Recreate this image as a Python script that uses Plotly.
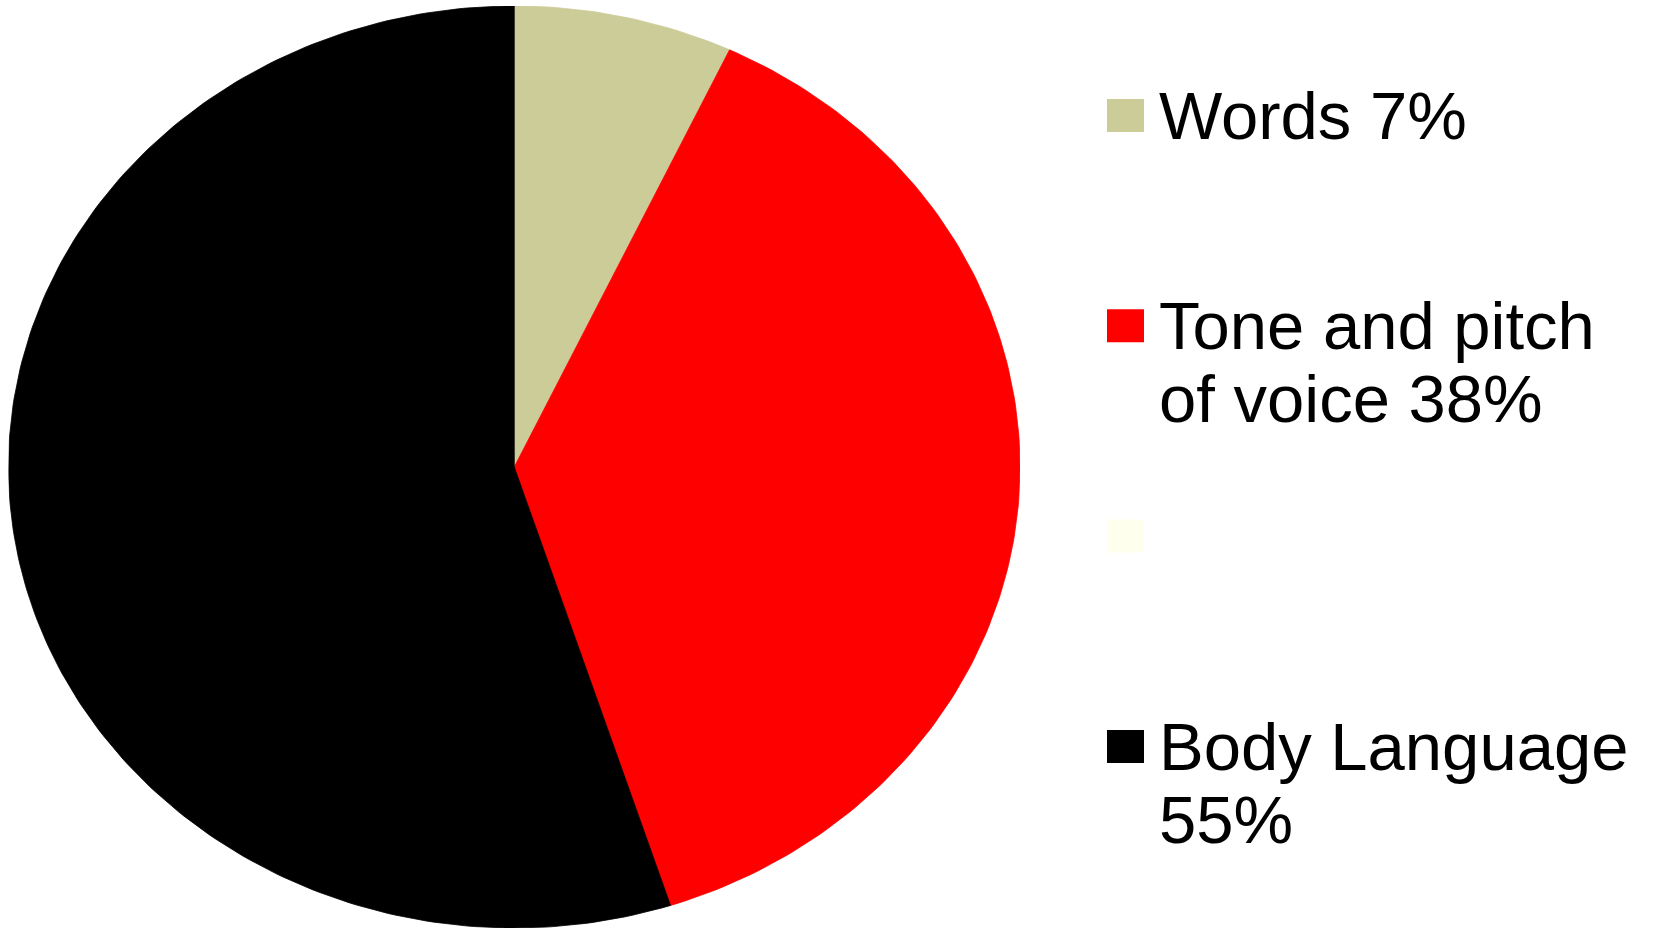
import textwrap
import numpy as np
import plotly.graph_objects as go

# ---- data ----
categories = ["Words", "Tone and pitch of voice", "", "Body Language"]
values = [7, 38, 0, 55]
colors = ["#CCCC99", "#FF0000", "#FFFFEE", "#000000"]

W, H = 1671, 929

fig = go.Figure()

# pie wedges drawn on an (elliptical) unit-circle in data space
total = float(sum(values))
cum = 0.0
for cat, val, col in zip(categories, values, colors):
    start = cum / total
    cum += val
    end = cum / total
    if val <= 0:
        continue
    n = max(4, int(400 * (end - start)))
    t = np.linspace(start, end, n) * 2 * np.pi  # clockwise from 12 o'clock
    xs = np.concatenate([[0], np.sin(t), [0]])
    ys = np.concatenate([[0], np.cos(t), [0]])
    fig.add_trace(go.Scatter(
        x=xs, y=ys, mode="lines", fill="toself", fillcolor=col,
        line=dict(color=col, width=0.8), hoverinfo="skip",
        name=f"{cat} {val}%", showlegend=False,
    ))

# pie placement (pixels)
px_left, px_right, px_top, px_bottom = 8.5, 1020, 6, 928
fig.update_xaxes(range=[-1, 1], visible=False, fixedrange=True,
                 domain=[px_left / W, px_right / W])
fig.update_yaxes(range=[-1, 1], visible=False, fixedrange=True,
                 domain=[1 - px_bottom / H, 1 - px_top / H])

# custom legend
sq_x0, sq_x1 = 1107, 1144
sq_h = 33
first_center = 115.5
item_step = 210.3
line_step = 73
text_x = 1157
font_size = 67
baseline_off = 23

shapes = []
annotations = []
for i, (cat, val, col) in enumerate(zip(categories, values, colors)):
    cy = first_center + i * item_step
    shapes.append(dict(type="rect", xref="paper", yref="paper",
                       x0=sq_x0 / W, x1=sq_x1 / W,
                       y0=1 - (cy + sq_h / 2) / H, y1=1 - (cy - sq_h / 2) / H,
                       fillcolor=col, line=dict(width=0), layer="above"))
    if cat:
        label = f"{cat} {val}%"
        for j, line in enumerate(textwrap.wrap(label, width=14)):
            mid = cy + baseline_off - 0.3465 * font_size + j * line_step
            annotations.append(dict(
                text=line, xref="paper", yref="paper",
                x=text_x / W, y=1 - mid / H,
                xanchor="left", yanchor="middle", showarrow=False,
                font=dict(family="Arial, Liberation Sans, sans-serif",
                          size=font_size, color="#000000"),
            ))

fig.update_layout(
    width=W, height=H,
    margin=dict(l=0, r=0, t=0, b=0),
    paper_bgcolor="white", plot_bgcolor="white",
    shapes=shapes, annotations=annotations,
    showlegend=False,
)

fig.write_html("out.html", config={"displayModeBar": False})
